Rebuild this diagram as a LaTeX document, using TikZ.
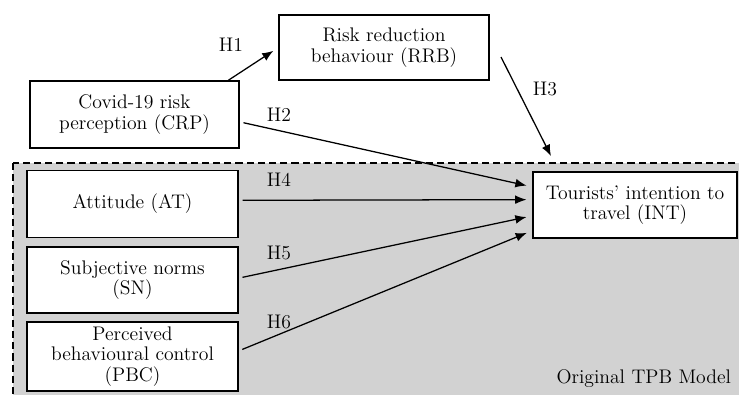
\documentclass[tikz,border=0pt]{standalone}
\usepackage{tikz}
\usetikzlibrary{arrows.meta}

\tikzset{
  box/.style={draw,thick,fill=white,align=center,inner sep=1pt,font=\fontsize{14}{14.5}\selectfont},
  hyp/.style={->,>={Latex[length=2.8mm,width=2.2mm]},line width=0.9pt,shorten <=1mm,shorten >=1.5mm},
  lab/.style={font=\fontsize{14}{14.5}\selectfont},
}

\begin{document}
\begin{tikzpicture}[x=0.25mm,y=-0.25mm]
  \useasboundingbox (0,0) rectangle (739,394);
  \draw[fill=gray!35,dash pattern=on 1.8mm off 1mm,line width=1pt](13,163) rectangle (760,410);%TPB
  \node[box,minimum width=52.5mm,minimum height=16.25mm] (RRB) at (384,47.5) {Risk reduction\\behaviour (RRB)};
  \node[box,minimum width=52.25mm,minimum height=16.75mm] (CRP) at (134.5,114.5) {Covid-19 risk\\perception (CRP)};
  \node[box,minimum width=52.75mm,minimum height=16.75mm] (AT) at (132.5,204) {Attitude (AT)};
  \node[box,minimum width=52.75mm,minimum height=16.5mm] (SN) at (132.5,280) {Subjective norms\\(SN)};
  \node[box,minimum width=52.75mm,minimum height=17.25mm] (PBC) at (132.5,356.5) {Perceived\\behavioural control\\(PBC)};
  \node[box,minimum width=51mm,minimum height=16.5mm] (INT) at (635,205) {Tourists' intention to\\travel (INT)};
  \node[lab,anchor=east] (TPB) at (736,379) {Original TPB Model};
  \coordinate (h3s) at (501,57);
  \coordinate (h3e) at (551,156);
  \draw[hyp,shorten <=0pt](CRP.20)--(RRB.west);%H1
  \draw[hyp](CRP.-4)--(INT.170);%H2
  \draw[hyp,shorten <=0pt,shorten >=0pt](h3s)--(h3e);%H3
  \draw[hyp](AT.2)--(INT.177);%H4
  \draw[hyp](SN.1)--(INT.186);%H5
  \draw[hyp](PBC.3.5)--(INT.194);%H6
  \node[lab] (H1) at (231,45) {H1};
  \node[lab] (H2) at (279,115) {H2};
  \node[lab] (H3) at (545,89) {H3};
  \node[lab] (H4) at (279,180) {H4};
  \node[lab] (H5) at (279,253) {H5};
  \node[lab] (H6) at (279,322) {H6};
\end{tikzpicture}
\end{document}
